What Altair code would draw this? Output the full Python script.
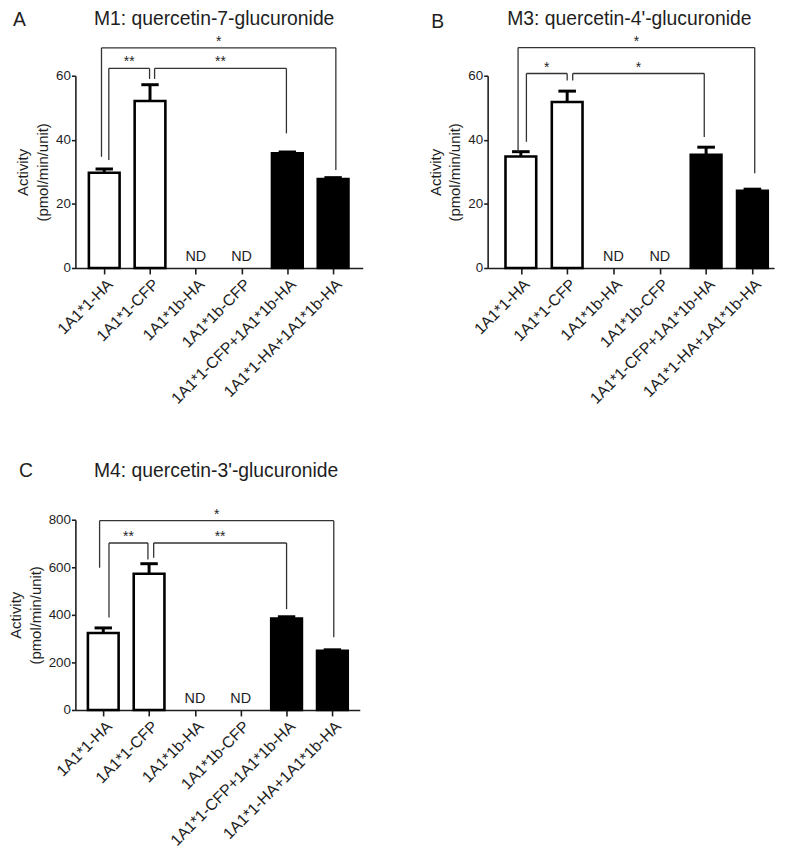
import json
import altair as alt
import pandas as pd

# ---------------- data ----------------
categories = ["1A1*1-HA", "1A1*1-CFP", "1A1*1b-HA", "1A1*1b-CFP",
              "1A1*1-CFP+1A1*1b-HA", "1A1*1-HA+1A1*1b-HA"]
positions = [1, 2, 3, 4, 5, 6]
groups = ["single", "single", "single", "single", "co", "co"]
detected = [True, True, False, False, True, True]

m1_mean = [29.7, 52.1, 0, 0, 35.8, 27.8]
m1_err = [1.2, 5.1, 0, 0, 0.4, 0.4]
m3_mean = [34.8, 51.8, 0, 0, 35.3, 24.1]
m3_err = [1.5, 3.4, 0, 0, 2.4, 0.5]
m4_mean = [324, 573, 0, 0, 385, 249]
m4_err = [21, 42, 0, 0, 7, 4]

# significance brackets: left leg x, right leg x, bar height, left leg end, right leg end, label
a_br_x1 = [0.94, 1.10, 2.10]
a_br_x2 = [6.06, 1.99, 4.98]
a_br_y = [68.7, 62.3, 62.3]
a_br_yl = [34.7, 33.7, 59.0]
a_br_yr = [30.6, 59.0, 42.0]
a_br_lab = ["*", "**", "**"]

b_br_x1 = [0.94, 1.12, 2.12]
b_br_x2 = [6.05, 2.00, 4.96]
b_br_y = [68.8, 60.7, 60.7]
b_br_yl = [36.3, 39.4, 58.5]
b_br_yr = [29.6, 58.5, 40.9]
b_br_lab = ["*", "*", "*"]

c_br_x1 = [0.92, 1.125, 2.10]
c_br_x2 = [6.03, 1.975, 5.00]
c_br_y = [796, 702, 702]
c_br_yl = [598, 389, 640]
c_br_yr = [306, 633, 424]
c_br_lab = ["*", "**", "**"]

INK = "#1e1e1e"
label_expr = json.dumps(categories) + "[datum.value - 1]"


def panel(mean, err, br, xdom, ydom, yticks, w, h, letter, title, letter_xy, title_xy):
    bars = pd.DataFrame({"pos": positions, "cat": categories, "group": groups,
                         "mean": mean, "err": err, "det": detected})
    bars["top"] = bars["mean"] + bars["err"]
    det = bars[bars["det"]]
    nd = bars[~bars["det"]]
    brdf = pd.DataFrame({"x1": br[0], "x2": br[1], "y": br[2], "yl": br[3],
                         "yr": br[4], "lab": br[5]})

    xaxis = alt.Axis(values=positions, labelExpr=label_expr, labelAngle=-45,
                     labelOverlap=False, labelFlush=False, labelAlign="right",
                     labelBaseline="top",
                     title=None, grid=False, tickSize=6, labelFontSize=16,
                     labelPadding=2, labelColor=INK, domainColor=INK,
                     tickColor=INK, domainWidth=1.6, tickWidth=1.6)
    yaxis = alt.Axis(values=yticks, title=["Activity", "(pmol/min/unit)"],
                     labelOverlap=False, labelFlush=False,
                     grid=False, tickSize=4, labelFontSize=13.5, labelColor=INK,
                     domainColor=INK, tickColor=INK, domainWidth=1.6, tickWidth=1.6,
                     titleFontSize=15, titleFontWeight="normal", titleColor=INK,
                     titleLineHeight=20, titlePadding=5, labelPadding=1)
    xs = alt.Scale(domain=xdom, nice=False, zero=False)
    ys = alt.Scale(domain=ydom, nice=False)

    def X(f):
        return alt.X(f, type="quantitative", scale=xs, axis=xaxis)

    def Y(f):
        return alt.Y(f, type="quantitative", scale=ys, axis=yaxis, stack=None)

    bar_layer = alt.Chart(det).mark_bar(orient="vertical", size=31, stroke="black",
                                        strokeWidth=2.6, clip=False).encode(
        x=X("pos"), y=Y("mean"),
        fill=alt.Fill("group:N", scale=alt.Scale(domain=["single", "co"],
                                                 range=["white", "black"]), legend=None))
    err_layer = alt.Chart(det).mark_rule(strokeWidth=3, color="black", clip=False).encode(
        x=X("pos"), y=Y("mean"), y2="top")
    cap_layer = alt.Chart(det).transform_calculate(
        xl="datum.pos - 0.19", xr="datum.pos + 0.19").mark_rule(
        strokeWidth=3, color="black", clip=False).encode(x=X("xl"), x2="xr", y=Y("top"))
    nd_layer = alt.Chart(nd).mark_text(dy=-7, baseline="alphabetic", fontSize=14.5,
                                       font="Liberation Sans", color=INK).encode(
        x=X("pos"), y=Y("mean"), text=alt.value("ND"))
    h_layer = alt.Chart(brdf).mark_rule(strokeWidth=1.3, color="#333", clip=False).encode(
        x=X("x1"), x2="x2", y=Y("y"))
    l_layer = alt.Chart(brdf).mark_rule(strokeWidth=1.3, color="#333", clip=False).encode(
        x=X("x1"), y=Y("y"), y2="yl")
    r_layer = alt.Chart(brdf).mark_rule(strokeWidth=1.3, color="#333", clip=False).encode(
        x=X("x2"), y=Y("y"), y2="yr")
    star_layer = alt.Chart(brdf).transform_calculate(xm="(datum.x1 + datum.x2) / 2").mark_text(
        dy=-2, baseline="alphabetic", fontSize=14, font="Liberation Sans", color=INK).encode(
        x=X("xm"), y=Y("y"), text="lab:N")
    one = pd.DataFrame({"k": [0]})
    letter_layer = alt.Chart(one).mark_text(align="left", baseline="alphabetic",
                                            fontSize=19.5, font="Liberation Sans",
                                            color=INK).encode(
        x=alt.value(letter_xy[0]), y=alt.value(letter_xy[1]), text=alt.value(letter))
    title_layer = alt.Chart(one).mark_text(align="center", baseline="alphabetic",
                                           fontSize=19.5, font="Liberation Sans",
                                           color=INK).encode(
        x=alt.value(title_xy[0]), y=alt.value(title_xy[1]), text=alt.value(title))
    return alt.layer(bar_layer, err_layer, cap_layer, nd_layer, h_layer, l_layer,
                     r_layer, star_layer, letter_layer, title_layer).properties(
        width=w, height=h)


pa = panel(m1_mean, m1_err,
           [a_br_x1, a_br_x2, a_br_y, a_br_yl, a_br_yr, a_br_lab],
           [0.478, 6.54], [0, 60], [0, 20, 40, 60], 290, 194,
           "A", "M1: quercetin-7-glucuronide", (-63, -50), (140, -51))
pb = panel(m3_mean, m3_err,
           [b_br_x1, b_br_x2, b_br_y, b_br_yl, b_br_yr, b_br_lab],
           [0.39, 6.36], [0, 60], [0, 20, 40, 60], 289, 194,
           "B", "M3: quercetin-4'-glucuronide", (-57, -48), (143, -51))
pc = panel(m4_mean, m4_err,
           [c_br_x1, c_br_x2, c_br_y, c_br_yl, c_br_yr, c_br_lab],
           [0.5, 6.49], [0, 800], [0, 200, 400, 600, 800], 287, 192,
           "C", "M4: quercetin-3'-glucuronide", (-57, -43), (142, -43))

chart = alt.concat(pa, pb, pc, columns=2, bounds="flush",
                   spacing=alt.RowColnumber(row=254, column=126)).properties(
    padding={"left": 0, "top": -2.5, "right": 5, "bottom": 5}
).configure(font="Liberation Sans", view=alt.ViewConfig(stroke="transparent", strokeWidth=0))

chart.save("out.html", embed_options={"renderer": "svg", "actions": False})
